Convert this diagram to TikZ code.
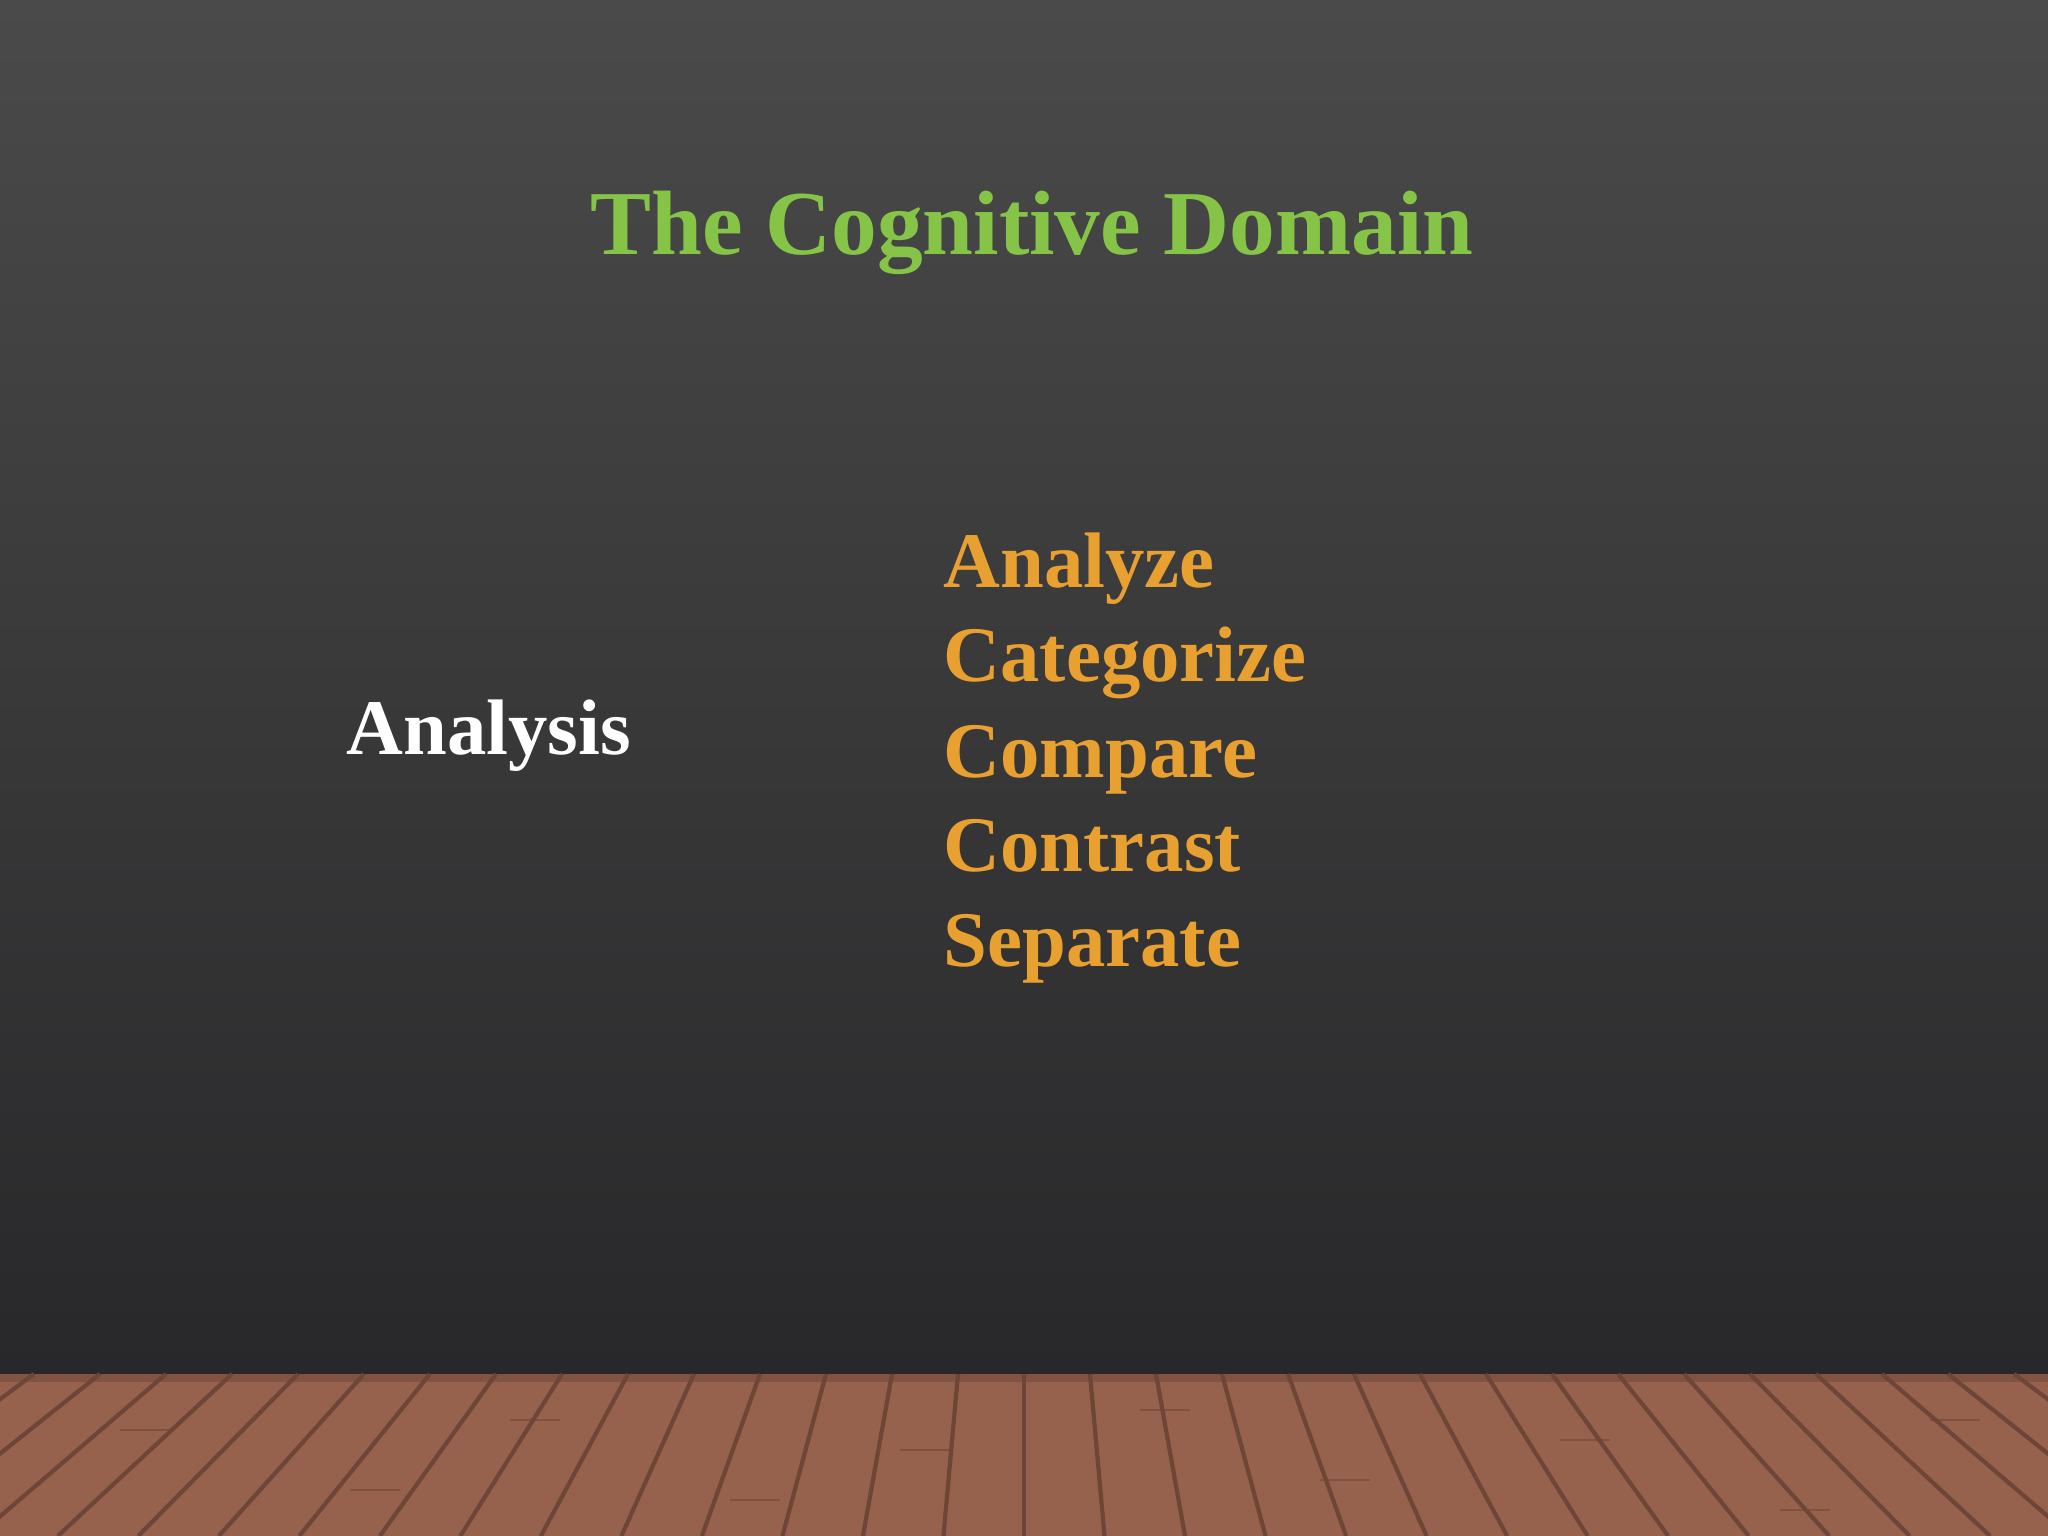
\documentclass[tikz,border=0pt]{standalone}
\usepackage{fontspec}
\setmainfont{Liberation Serif}
\definecolor{titlegreen}{RGB}{134,196,72}
\definecolor{wordorange}{RGB}{232,160,48}
\definecolor{wood}{RGB}{150,98,78}
\definecolor{wooddark}{RGB}{110,70,55}
\tikzset{word/.style={anchor=base west,text=wordorange,font=\bfseries\fontsize{22.4}{26}\selectfont,inner sep=0pt}}
\begin{document}
\begin{tikzpicture}
\useasboundingbox (0,0) rectangle (20.48,-15.36);
\shade[top color={rgb,255:red,74;green,74;blue,74}, bottom color={rgb,255:red,40;green,40;blue,42}] (0,0) rectangle (20.48,-13.74);
\fill[wood] (0,-13.74) rectangle (20.48,-15.36);
\fill[wooddark,opacity=0.5] (0,-13.74) rectangle (20.48,-13.82);
\foreach \i in {-16,...,16}{
  \pgfmathsetmacro{\xt}{10.24+0.66*\i}
  \pgfmathsetmacro{\xb}{10.24+0.66*\i*1.22}
  \draw[wooddark,line width=1.2pt] (\xt,-13.74) -- (\xb,-15.36);
}
\foreach \x/\y in {1.2/-14.3,3.5/-14.9,5.1/-14.2,7.3/-15.0,9.0/-14.5,11.4/-14.1,13.2/-14.8,15.6/-14.4,17.8/-15.1,19.3/-14.2}{
  \draw[wooddark,opacity=0.6,line width=0.8pt] (\x,\y) -- ++(0.5,0);
}
\node[anchor=base,text=titlegreen,font=\bfseries\fontsize{26}{30}\selectfont,inner sep=0pt] (title) at (10.32,-2.55) {The Cognitive Domain};
\node[anchor=base west,text=white,font=\bfseries\fontsize{22.4}{26}\selectfont,inner sep=0pt] (analysis) at (3.46,-7.55) {Analysis};
\node[word] (w1) at (9.43,-5.88) {Analyze};
\node[word] (w2) at (9.43,-6.82) {Categorize};
\node[word] (w3) at (9.43,-7.77) {Compare};
\node[word] (w4) at (9.43,-8.72) {Contrast};
\node[word] (w5) at (9.43,-9.66) {Separate};
\end{tikzpicture}
\end{document}
